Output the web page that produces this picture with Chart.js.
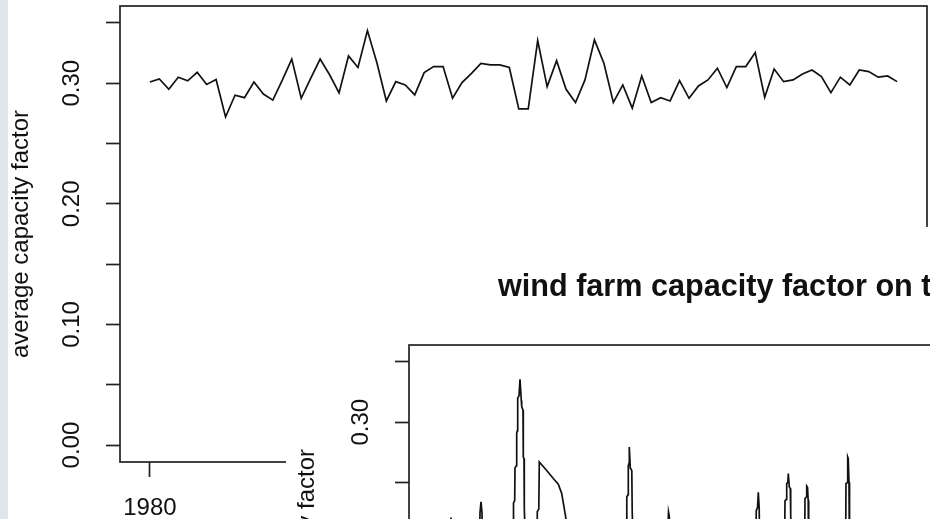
<!DOCTYPE html>
<html><head><meta charset="utf-8">
<script src="https://cdn.jsdelivr.net/npm/chart.js@4"></script>
<style>
html,body{margin:0;padding:0;background:#fff;}
#wrap{position:relative;width:930px;height:519px;overflow:hidden;background:#fff;}
#strip{position:absolute;left:0;top:0;width:8px;height:519px;background:#dfe6ea;}
#c1{position:absolute;left:0;top:0;width:930px;height:519px;}
#win2{position:absolute;left:286px;top:227px;width:644px;height:292px;overflow:hidden;background:#fff;}
#c2{position:absolute;left:0;top:0;width:1104px;height:631px;}
</style></head><body>
<div id="wrap">
<canvas id="c1" width="930" height="519"></canvas>
<div id="strip"></div>
<div id="win2"><canvas id="c2" width="1104" height="631"></canvas></div>
</div>
<script>
// ---- data: plot 1 (average capacity factor, half-yearly) ----
const periods = [1980,1980.5,1981,1981.5,1982,1982.5,1983,1983.5,1984,1984.5,
  1985,1985.5,1986,1986.5,1987,1987.5,1988,1988.5,1989,1989.5,
  1990,1990.5,1991,1991.5,1992,1992.5,1993,1993.5,1994,1994.5,
  1995,1995.5,1996,1996.5,1997,1997.5,1998,1998.5,1999,1999.5,
  2000,2000.5,2001,2001.5,2002,2002.5,2003,2003.5,2004,2004.5,
  2005,2005.5,2006,2006.5,2007,2007.5,2008,2008.5,2009,2009.5,
  2010,2010.5,2011,2011.5,2012,2012.5,2013,2013.5,2014,2014.5,
  2015,2015.5,2016,2016.5,2017,2017.5,2018,2018.5,2019,2019.5];
const avgCapacity = [0.301,0.3035,0.295,0.305,0.302,0.309,0.299,0.303,0.272,0.290,
  0.288,0.301,0.291,0.286,0.3025,0.320,0.2875,0.304,0.320,0.307,
  0.292,0.3226,0.313,0.3436,0.317,0.2853,0.3013,0.2986,0.2903,0.3088,
  0.3138,0.3138,0.2875,0.3005,0.3082,0.3165,0.3152,0.3152,0.313,0.2787,
  0.2787,0.3353,0.2972,0.3187,0.295,0.284,0.3027,0.3359,0.3166,0.284,
  0.2986,0.2793,0.306,0.284,0.288,0.2853,0.3022,0.2875,0.2977,0.3027,
  0.3124,0.2964,0.3138,0.3138,0.3254,0.2884,0.3118,0.3013,0.3027,0.3077,
  0.311,0.3055,0.2922,0.305,0.2986,0.311,0.3096,0.305,0.306,0.3013];
const xTickYears = [1980,1990,2000,2010];
const yTickValues = [0,0.05,0.1,0.15,0.2,0.25,0.3,0.35];
const yTickLabels = ['0.00','','0.10','','0.20','','0.30',''];
const yLabel = 'average capacity factor';

// ---- data: plot 2 (wind farm capacity factor, 10-minute steps) ----
const title2 = 'wind farm capacity factor on typical winter day';
const farmTime = [0,3,5,7,9,12,20,28,35,36,37,38,39,45,55,63,
  69,69.5,70.7,71,72.4,72.7,73.4,73.7,75,76,77.3,77.7,79,79.3,80,80.3,81.3,82,86,90,
  92.8,93.3,94.8,95.3,102.7,109.3,114.3,117.7,120,122,125,130,140,150,160,170,178,
  182.5,182.8,184,184.3,185,185.3,186.3,187.8,188.2,189,190,195,205,215,
  222,224.5,225.3,226.5,232,245,260,275,290,300,
  311,312.3,313.5,314.3,315.2,316,322,330,338,
  340.5,341,342.3,342.7,343.8,344.3,345.3,346.3,346.7,347.5,352,357,
  360.5,361,362.3,362.7,363.5,364.2,364.7,370,380,390,398,
  401.5,402,403.5,403.7,404.2,405,405.3,405.8,412,425,440,460,480,500,530,560,600,640,680,720,760,800,844];
const farmCapacity = [0.12,0.16,0.18,0.221,0.17,0.13,0.09,0.14,0.17,0.225,0.234,0.225,0.16,0.10,0.07,0.12,
  0.17,0.233,0.235,0.262,0.264,0.291,0.293,0.320,0.322,0.3355,0.318,0.313,0.31,0.271,0.27,0.229,0.20,0.16,0.11,0.13,
  0.17,0.226,0.228,0.267,0.260,0.2533,0.2486,0.2409,0.2298,0.2196,0.19,0.15,0.11,0.08,0.12,0.15,0.14,
  0.17,0.238,0.24,0.264,0.266,0.2795,0.262,0.26,0.227,0.20,0.16,0.12,0.09,0.14,
  0.17,0.2256,0.222,0.16,0.12,0.08,0.05,0.09,0.13,0.15,
  0.17,0.227,0.229,0.242,0.229,0.16,0.12,0.15,0.16,
  0.19,0.2348,0.236,0.2492,0.25,0.2575,0.2464,0.245,0.2243,0.17,0.14,0.16,
  0.18,0.2367,0.238,0.247,0.246,0.2353,0.18,0.13,0.10,0.14,0.16,
  0.18,0.2492,0.25,0.2712,0.27,0.25,0.2478,0.17,0.12,0.09,0.13,0.16,0.11,0.08,0.12,0.15,0.10,0.07,0.12,0.14,0.09,0.11,0.13];

const FONT = "'Liberation Sans', Arial, sans-serif";
const INK = '#111';
const AXIS = '#222';
const FS = 24;
Chart.defaults.font.family = FONT;
Chart.defaults.color = INK;

const boxPlugin = {
  id: 'rbox',
  afterDatasetsDraw(chart) {
    const {ctx, chartArea: a} = chart;
    ctx.save();
    ctx.strokeStyle = AXIS;
    ctx.lineWidth = 1.7;
    ctx.strokeRect(a.left, a.top, a.right - a.left, a.bottom - a.top);
    ctx.restore();
  }
};

function yAxis(width) {
  return {
    type: 'linear', min: -0.014, max: 0.364,
    afterBuildTicks(s) { s.ticks = yTickValues.map(v => ({value: v})); },
    afterFit(s) { s.width = width; s.paddingTop = 0; s.paddingBottom = 0; },
    ticks: {
      autoSkip: false, minRotation: 90, maxRotation: 90, crossAlign: 'center',
      padding: 10, font: {size: FS}, color: INK,
      callback: (v) => yTickLabels[yTickValues.indexOf(v)]
    },
    grid: {display: true, drawOnChartArea: false, drawTicks: true, tickLength: 14, tickColor: AXIS, tickWidth: 1.7},
    border: {display: false},
    title: {display: true, text: yLabel, font: {size: FS}, color: INK, padding: {top: 7, bottom: 0}}
  };
}

new Chart(document.getElementById('c1'), {
  type: 'line',
  data: {
    datasets: [{
      data: periods.map((p, i) => ({x: p, y: avgCapacity[i]})),
      borderColor: INK, borderWidth: 1.7, pointRadius: 0, tension: 0, fill: false
    }]
  },
  options: {
    responsive: false, animation: false, devicePixelRatio: 1,
    layout: {padding: {top: 6, right: 3, left: 0, bottom: 0}},
    plugins: {legend: {display: false}, tooltip: {enabled: false}, title: {display: false}},
    scales: {
      x: {
        type: 'linear', min: 1978.42, max: 2021.08,
        afterBuildTicks(s) { s.ticks = xTickYears.map(v => ({value: v})); },
        afterFit(s) { s.height = 57; s.paddingLeft = 0; s.paddingRight = 0; },
        ticks: {autoSkip: false, maxRotation: 0, minRotation: 0, padding: 17, font: {size: FS}, color: INK,
          callback: (v) => String(v)},
        grid: {display: true, drawOnChartArea: false, drawTicks: true, tickLength: 15, tickColor: AXIS, tickWidth: 1.7},
        border: {display: false}
      },
      y: yAxis(120)
    }
  },
  plugins: [boxPlugin]
});

new Chart(document.getElementById('c2'), {
  type: 'line',
  data: {
    datasets: [{
      data: farmTime.map((t, i) => ({x: t, y: farmCapacity[i]})),
      borderColor: INK, borderWidth: 1.7, pointRadius: 0, tension: 0, fill: false
    }]
  },
  options: {
    responsive: false, animation: false, devicePixelRatio: 1,
    layout: {padding: 0},
    plugins: {
      legend: {display: false}, tooltip: {enabled: false},
      title: {display: true, text: title2, align: 'center', color: INK,
        font: {size: 30.6, weight: 'bold'}, padding: {top: 42.2, bottom: 39.1}}
    },
    scales: {
      x: {
        type: 'linear', min: -35, max: 946,
        afterFit(s) { s.height = 57; s.paddingLeft = 0; s.paddingRight = 0; },
        ticks: {display: false},
        grid: {display: false},
        border: {display: false}
      },
      y: yAxis(123)
    }
  },
  plugins: [boxPlugin]
});
</script>
</body></html>
